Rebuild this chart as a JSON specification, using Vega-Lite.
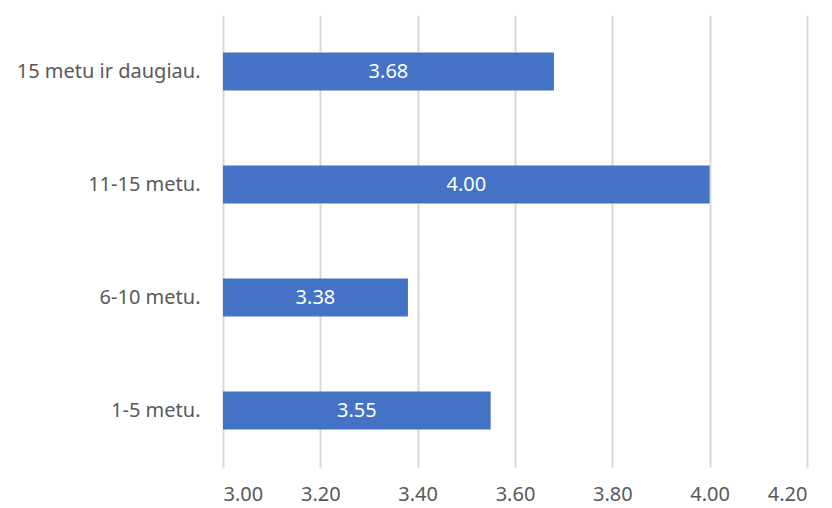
{
  "$schema": "https://vega.github.io/schema/vega-lite/v6.json",
  "autosize": {"type": "none"},
  "padding": {"left": 223, "top": 15, "right": 25, "bottom": 41},
  "width": 584,
  "height": 452,
  "background": "white",
  "config": {
    "view": {"stroke": null},
    "font": "Noto Sans"
  },
  "data": {
    "values": [
      {"category": "15 metu ir daugiau.", "value": 3.68},
      {"category": "11-15 metu.", "value": 4.00},
      {"category": "6-10 metu.", "value": 3.38},
      {"category": "1-5 metu.", "value": 3.55}
    ]
  },
  "encoding": {
    "y": {
      "field": "category",
      "type": "nominal",
      "sort": null,
      "scale": {"padding": 0},
      "axis": {
        "title": null,
        "domain": false,
        "ticks": false,
        "labelFontSize": 20,
        "labelColor": "#595959",
        "labelPadding": 23,
        "labelFont": "Noto Sans",
        "labelLimit": 300
      }
    }
  },
  "layer": [
    {
      "mark": {"type": "bar", "color": "#4472C4", "size": 38},
      "encoding": {
        "x": {
          "field": "value",
          "type": "quantitative",
          "scale": {"domain": [3, 4.2], "nice": false, "zero": false},
          "axis": {
            "title": null,
            "values": [3, 3.2, 3.4, 3.6, 3.8, 4.0, 4.2],
            "format": ".2f",
            "domain": false,
            "ticks": false,
            "grid": true,
            "gridColor": "#D9D9D9",
            "gridWidth": 2,
            "labelFontSize": 20,
            "labelColor": "#595959",
            "labelPadding": 17,
            "labelFont": "Noto Sans"
          }
        },
        "x2": {"datum": 3}
      }
    },
    {
      "mark": {"type": "text", "color": "white", "fontSize": 20, "font": "Noto Sans", "baseline": "middle", "align": "center",
        "x": {"expr": "scale('x', (3 + datum.value) / 2)"}},
      "encoding": {
        "text": {"field": "value", "type": "quantitative", "format": ".2f"}
      }
    }
  ]
}
